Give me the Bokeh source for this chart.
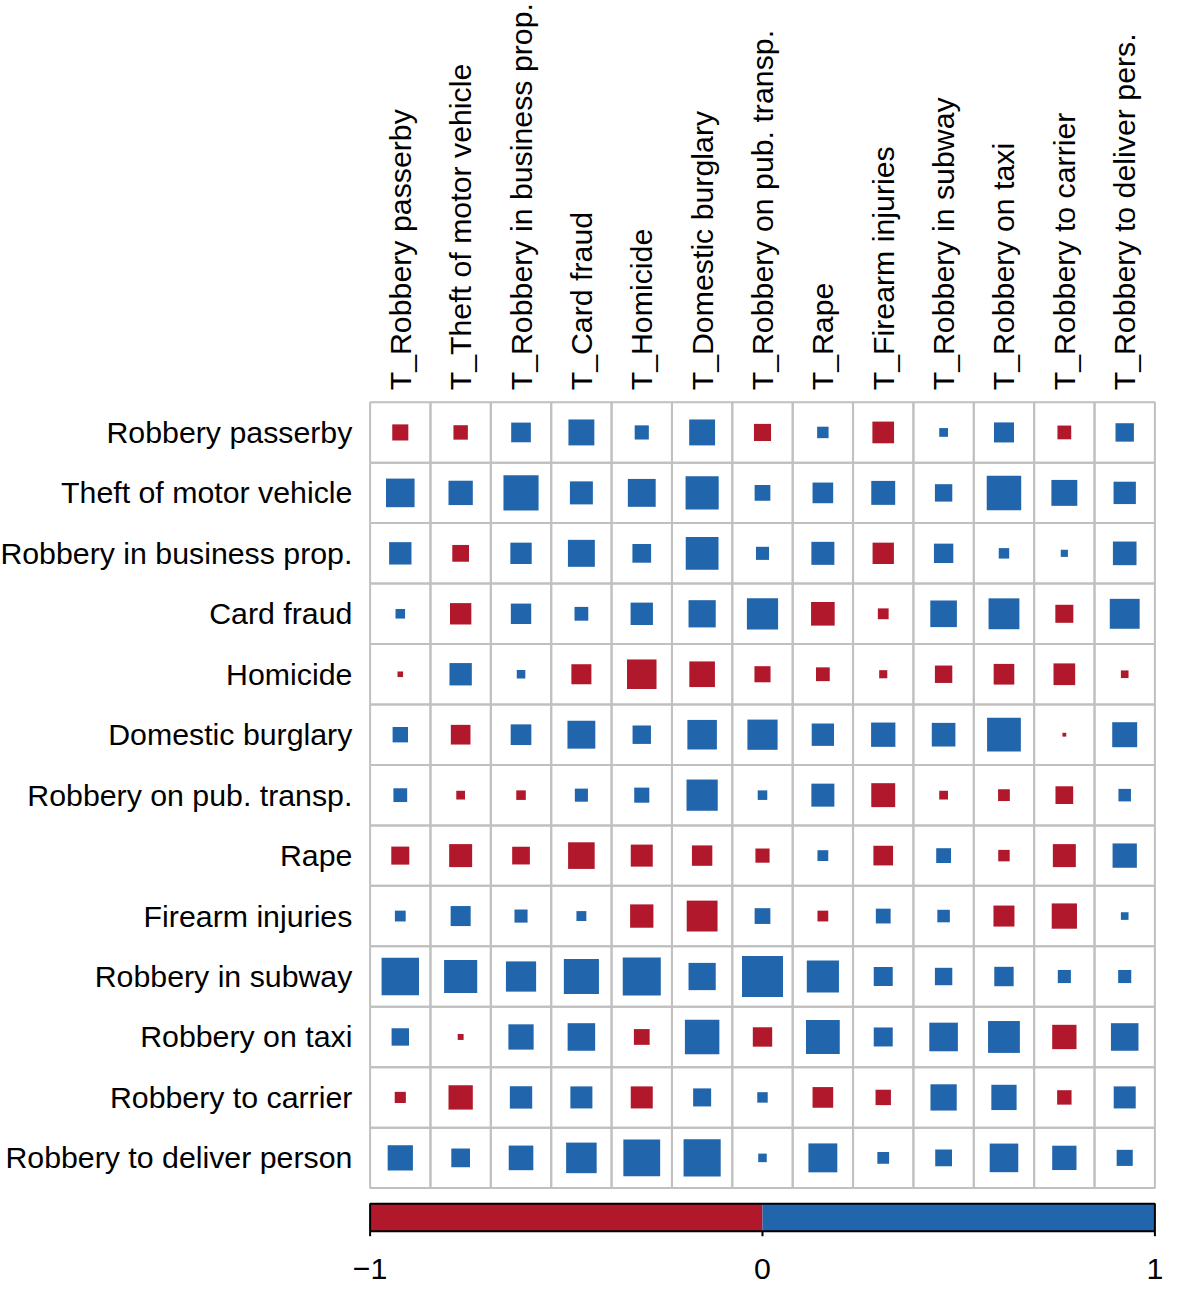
import math
from bokeh.plotting import figure
from bokeh.models import Range1d, ColumnDataSource
from bokeh.core.properties import value
from bokeh.embed import file_html
from bokeh.resources import INLINE

row_names = ["Robbery passerby", "Theft of motor vehicle", "Robbery in business prop.",
             "Card fraud", "Homicide", "Domestic burglary", "Robbery on pub. transp.",
             "Rape", "Firearm injuries", "Robbery in subway", "Robbery on taxi",
             "Robbery to carrier", "Robbery to deliver person"]
col_names = ["T_Robbery passerby", "T_Theft of motor vehicle", "T_Robbery in business prop.",
             "T_Card fraud", "T_Homicide", "T_Domestic burglary", "T_Robbery on pub. transp.",
             "T_Rape", "T_Firearm injuries", "T_Robbery in subway", "T_Robbery on taxi",
             "T_Robbery to carrier", "T_Robbery to deliver pers."]

r_robbery_passerby = [-0.071, -0.057, 0.106, 0.184, 0.055, 0.184, -0.080, 0.036, -0.129, 0.021, 0.110, -0.052, 0.093]
r_theft_motor_vehicle = [0.224, 0.162, 0.338, 0.145, 0.213, 0.301, 0.068, 0.117, 0.157, 0.083, 0.326, 0.184, 0.137]
r_robbery_business = [0.137, -0.077, 0.125, 0.199, 0.096, 0.295, 0.047, 0.145, -0.125, 0.103, 0.030, 0.014, 0.153]
r_card_fraud = [0.025, -0.125, 0.114, 0.052, 0.137, 0.203, 0.267, -0.153, -0.032, 0.194, 0.261, -0.089, 0.245]
r_homicide = [-0.0085, 0.137, 0.020, -0.110, -0.239, -0.180, -0.071, -0.052, -0.018, -0.083, -0.117, -0.129, -0.016]
r_domestic_burglary = [0.065, -0.106, 0.117, 0.213, 0.093, 0.239, 0.250, 0.137, 0.162, 0.153, 0.313, -0.004, 0.171]
r_robbery_pub_transp = [0.052, -0.021, -0.025, 0.047, 0.0625, 0.267, 0.025, 0.145, -0.157, -0.021, -0.038, -0.086, 0.043]
r_rape = [-0.089, -0.145, -0.086, -0.194, -0.133, -0.114, -0.055, 0.032, -0.106, 0.060, -0.036, -0.145, 0.162]
r_firearm_injuries = [0.032, 0.110, 0.047, 0.027, -0.149, -0.261, 0.068, -0.032, 0.060, 0.043, -0.121, -0.175, 0.016]
r_robbery_subway = [0.384, 0.301, 0.250, 0.338, 0.397, 0.203, 0.461, 0.284, 0.099, 0.083, 0.103, 0.047, 0.047]
r_robbery_taxi = [0.083, -0.0096, 0.175, 0.208, -0.068, 0.326, -0.103, 0.313, 0.099, 0.224, 0.278, -0.162, 0.208]
r_robbery_carrier = [-0.034, -0.162, 0.137, 0.133, -0.133, 0.089, 0.030, -0.117, -0.065, 0.189, 0.175, -0.057, 0.133]
r_robbery_deliver = [0.175, 0.096, 0.166, 0.256, 0.372, 0.378, 0.020, 0.229, 0.038, 0.077, 0.224, 0.162, 0.071]

rows_values = [r_robbery_passerby, r_theft_motor_vehicle, r_robbery_business, r_card_fraud,
               r_homicide, r_domestic_burglary, r_robbery_pub_transp, r_rape,
               r_firearm_injuries, r_robbery_subway, r_robbery_taxi, r_robbery_carrier,
               r_robbery_deliver]

colorbar_ticks = [-1, 0, 1]
colorbar_labels = ["\u22121", "0", "1"]

RED = "#B2182B"
BLUE = "#2166AC"
GRID = "#C0C0C0"

# reference geometry (pixels) -> data units (cells)
CELL = 61.25
GX0, GY0 = 375.0, 407.0
REF_W, REF_H = 1181.0, 1307.0
W, H = 1164, 1290
n = len(col_names)

p = figure(width=W, height=H, output_backend="svg", toolbar_location=None,
           x_range=Range1d((0 - GX0) / CELL, (REF_W - GX0) / CELL),
           y_range=Range1d(-(REF_H - GY0) / CELL, (GY0 - 0) / CELL),
           min_border=0)
p.axis.visible = False
p.grid.visible = False
p.outline_line_color = None
p.background_fill_color = "white"
p.border_fill_color = "white"

# grid cells
gx, gy = [], []
for r in range(n):
    for c in range(n):
        gx.append(c + 0.5)
        gy.append(-(r + 0.5))
p.rect(x=gx, y=gy, width=1, height=1, fill_color=None, line_color=GRID, line_width=2)

# squares (side proportional to sqrt(|r|), as corrplot does)
sx, sy, ss, sc = [], [], [], []
for r, vals in enumerate(rows_values):
    for c, v in enumerate(vals):
        sx.append(c + 0.5)
        sy.append(-(r + 0.5))
        ss.append(math.sqrt(abs(v)))
        sc.append(BLUE if v >= 0 else RED)
src = ColumnDataSource(dict(x=sx, y=sy, s=ss, color=sc))
p.rect(x="x", y="y", width="s", height="s", fill_color="color", line_color=None, source=src)

FS = "30.3px"
FONT = value("Liberation Sans")

# row labels
p.text(x=[(357 - GX0) / CELL] * n, y=[-(r + 0.5) for r in range(n)], text=row_names,
       text_align="right", text_baseline="middle", text_font=FONT, text_font_size=FS,
       text_color="black")

# column labels
p.text(x=[c + 0.5 for c in range(n)], y=[(GY0 - 395) / CELL] * n, text=col_names,
       angle=math.pi / 2, text_align="left", text_baseline="middle", text_font=FONT,
       text_font_size=FS, text_color="black")

# colorbar
cb_top = -(1219 - GY0) / CELL
cb_bot = -(1247 - GY0) / CELL
cb_mid = (cb_top + cb_bot) / 2
cb_h = cb_top - cb_bot
p.rect(x=[n / 4, 3 * n / 4], y=[cb_mid, cb_mid], width=n / 2, height=cb_h,
       fill_color=[RED, BLUE], line_color=None)
p.rect(x=[n / 2], y=[cb_mid], width=n, height=cb_h, fill_color=None,
       line_color="black", line_width=2)
tick_x = [(t + 1) / 2 * n for t in colorbar_ticks]
tick_bot = -(1252 - GY0) / CELL
p.segment(x0=tick_x, y0=[cb_bot] * 3, x1=tick_x, y1=[tick_bot] * 3, line_color="black",
          line_width=2)
p.text(x=tick_x, y=[-(1285 - GY0) / CELL] * 3, text=colorbar_labels,
       text_align="center", text_baseline="middle", text_font=FONT, text_font_size=FS,
       text_color="black")

open("out.html", "w").write(file_html(p, INLINE))
